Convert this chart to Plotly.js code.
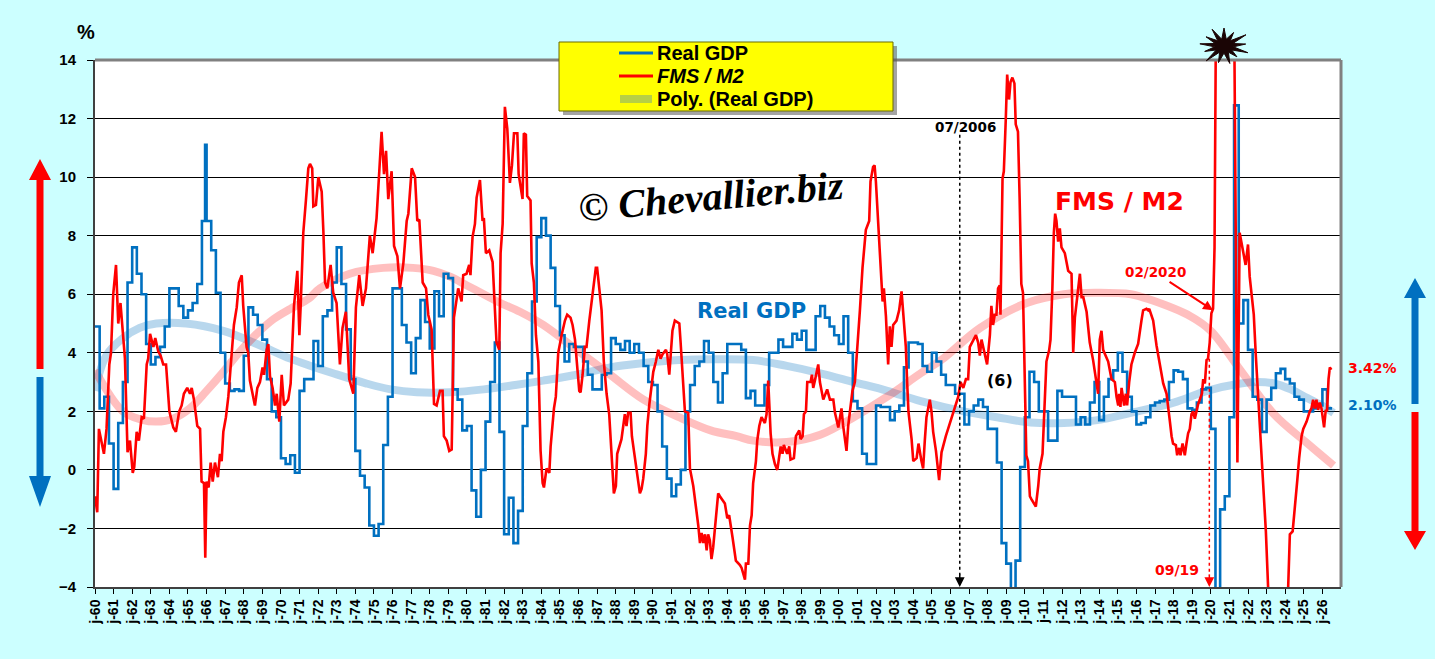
<!DOCTYPE html>
<html><head><meta charset="utf-8">
<script src="https://cdn.plot.ly/plotly-3.0.1.min.js"></script>
<style>html,body{margin:0;padding:0;background:#CCFFFF;}#chart{width:1435px;height:659px;}</style>
</head><body><div id="chart"></div>
<script>
// ---------------- DATA ----------------
const gdpStartYear = 1960;
// Real GDP, y/y %, quarterly from 1960Q1
const gdpQuarterly = [
4.9,2.1,2.5,0.9, -0.65,1.6,3.0,6.4, 7.6,6.7,6.0,4.3, 3.6,3.85,4.2,4.9,
6.2,6.2,5.6,5.2, 5.45,5.7,6.35,8.5, 8.5,7.5,6.05,4.0, 2.95,2.7,2.75,2.7,
3.9,5.55,5.3,4.95, 4.45,3.1,2.0,1.8, 0.4,0.2,0.5,-0.1, 2.7,3.1,3.1,4.4,
3.55,5.25,5.45,6.4, 7.6,6.35,4.8,3.1, 0.65,-0.2,-0.6,-1.9, -2.25,-1.85,0.85,2.5,
6.2,6.2,4.95,4.35, 3.3,4.5,5.8,5.05, 4.15,6.1,5.25,6.7, 6.55,2.75,2.4,1.35,
1.5,-0.7,-1.6,0.0, 1.65,3.0,4.35,1.3, -2.2,-0.95,-2.5,-1.4, 1.5,3.3,5.75,7.95,
8.6,8.0,6.9,5.6, 4.6,3.7,4.3,4.2, 4.2,3.7,3.25,2.75, 2.75,3.25,3.3,4.5,
4.3,4.1,4.4,4.0, 4.3,4.0,3.55,3.0, 2.9,2.0,0.8,-0.3, -0.9,-0.5,0.0,2.0,
2.9,3.55,3.7,4.4, 4.0,3.0,2.3,3.3, 4.3,4.3,4.3,4.1, 2.45,2.7,2.2,2.2,
2.9,4.0,4.0,4.45, 4.2,4.2,4.65,4.45, 4.75,4.1,4.1,5.25, 5.6,5.2,4.9,4.6,
4.3,5.25,4.0,2.35, 2.1,0.55,0.2,0.2, 2.2,2.15,2.15,1.7, 2.0,2.2,3.5,4.35,
4.35,4.3,3.55,3.35, 4.0,3.7,3.25,2.9, 2.9,2.6,2.6,1.55, 2.0,2.2,2.4,2.15,
1.4,1.4,0.25,-2.5, -3.2,-4.3,-3.1,0.1, 1.8,3.35,3.0,2.0, 2.0,1.0,1.0,2.7,
2.5,2.5,2.5,1.55, 1.8,1.55,2.3,3.0, 1.7,2.5,3.1,3.4, 4.0,3.35,2.5,2.0,
1.55,1.6,1.8,2.2, 2.3,2.35,2.4,3.0, 3.4,3.35,3.1,2.1, 2.05,2.3,2.75,2.8,
1.4,-9.0,-1.35,-0.9, 1.8,12.45,5.0,5.8, 4.1,2.5,2.4,1.3, 2.4,2.8,3.3,3.45,
3.1,2.95,2.5,2.4, 2.0,2.0,2.1,2.2, 2.75,2.1
];
const gdpSpikeX = [1965.92];
const gdpSpikeY = [11.1];

// FMS / M2 (%), dates as decimal years
const fmsX = [
1960.00,1960.12,1960.21,1960.36,1960.48,1960.62,1960.77,1960.86,1960.98,1961.13,1961.25,1961.37,1961.61,1961.75,1961.88,
1962.03,1962.11,1962.24,1962.36,1962.51,1962.63,1962.78,1962.86,1962.96,1963.14,1963.24,1963.40,1963.53,1963.67,1963.82,
1964.00,1964.21,1964.35,1964.53,1964.66,1964.78,1964.96,1965.11,1965.20,1965.32,1965.50,1965.65,1965.73,1965.86,1965.93,
1966.00,1966.11,1966.22,1966.33,1966.45,1966.61,1966.72,1966.81,1966.90,1967.04,1967.17,1967.35,1967.47,1967.62,1967.74,
1967.89,1967.97,1968.15,1968.24,1968.33,1968.48,1968.60,1968.73,1968.87,1969.01,1969.09,1969.23,1969.32,1969.41,1969.55,
1969.68,1969.77,1969.91,1970.04,1970.16,1970.39,1970.52,1970.70,1970.88,1970.99,1971.06,1971.20,1971.34,1971.47,1971.56,
1971.68,1971.74,1971.88,1972.01,1972.19,1972.28,1972.37,1972.49,1972.67,1972.81,1972.99,1973.17,1973.31,1973.49,1973.67,
1973.89,1974.03,1974.21,1974.39,1974.57,1974.78,1974.93,1975.14,1975.41,1975.54,1975.65,1975.77,1975.95,1976.08,1976.26,
1976.40,1976.58,1976.76,1976.85,1977.03,1977.21,1977.33,1977.44,1977.62,1977.80,1977.92,1978.10,1978.23,1978.37,1978.55,
1978.69,1978.76,1978.91,1979.05,1979.18,1979.30,1979.53,1979.71,1979.80,1979.98,1980.12,1980.19,1980.30,1980.43,1980.52,
1980.70,1980.84,1980.91,1981.02,1981.20,1981.38,1981.59,1981.74,1981.81,1981.92,1982.04,1982.17,1982.31,1982.42,1982.53,
1982.71,1982.78,1982.99,1983.06,1983.17,1983.24,1983.42,1983.48,1983.60,1983.71,1983.84,1983.96,1984.07,1984.14,1984.28,
1984.43,1984.50,1984.68,1984.78,1984.91,1985.09,1985.27,1985.39,1985.57,1985.68,1985.81,1985.90,1986.04,1986.11,1986.22,
1986.34,1986.43,1986.58,1986.76,1986.93,1987.00,1987.11,1987.24,1987.36,1987.51,1987.65,1987.78,1987.90,1988.01,1988.08,
1988.31,1988.49,1988.58,1988.67,1988.80,1988.87,1988.98,1989.09,1989.21,1989.30,1989.39,1989.48,1989.62,1989.70,1989.81,
1989.93,1990.02,1990.16,1990.29,1990.41,1990.52,1990.70,1990.77,1990.88,1990.95,1991.05,1991.18,1991.42,1991.49,1991.60,
1991.72,1991.90,1991.99,1992.17,1992.35,1992.44,1992.53,1992.62,1992.71,1992.80,1992.89,1992.97,1993.06,1993.15,1993.24,
1993.33,1993.42,1993.51,1993.60,1993.75,1993.87,1994.00,1994.10,1994.28,1994.46,1994.68,1994.77,1994.95,1995.00,1995.13,
1995.22,1995.31,1995.39,1995.54,1995.61,1995.72,1995.84,1996.02,1996.11,1996.20,1996.25,1996.33,1996.43,1996.56,1996.69,
1996.87,1996.97,1997.04,1997.22,1997.33,1997.40,1997.58,1997.69,1997.87,1997.94,1998.05,1998.12,1998.23,1998.30,1998.48,
1998.55,1998.62,1998.71,1998.89,1998.98,1999.16,1999.37,1999.52,1999.70,1999.79,1999.97,2000.14,2000.23,2000.41,2000.50,
2000.59,2000.73,2000.86,2000.98,2001.13,2001.27,2001.45,2001.63,2001.70,2001.84,2001.92,2001.99,2002.13,2002.27,2002.35,
2002.42,2002.53,2002.65,2002.74,2002.83,2002.92,2003.10,2003.24,2003.37,2003.49,2003.60,2003.67,2003.74,2003.91,2004.00,
2004.18,2004.28,2004.44,2004.53,2004.62,2004.71,2004.89,2004.98,2005.07,2005.22,2005.39,2005.52,2005.75,2005.97,2006.18,
2006.42,2006.54,2006.69,2006.83,2006.95,2007.04,2007.26,2007.37,2007.49,2007.58,2007.67,2007.90,2007.97,2008.12,2008.20,
2008.29,2008.38,2008.47,2008.56,2008.65,2008.69,2008.80,2008.87,2008.97,2009.05,2009.15,2009.23,2009.33,2009.44,2009.51,
2009.63,2009.72,2009.81,2009.90,2009.99,2010.08,2010.17,2010.27,2010.35,2010.59,2010.72,2010.80,2010.95,2011.02,2011.16,
2011.31,2011.38,2011.48,2011.56,2011.63,2011.70,2011.79,2011.88,2011.97,2012.15,2012.24,2012.33,2012.51,2012.60,2012.69,
2012.78,2012.96,2013.05,2013.14,2013.32,2013.49,2013.67,2013.85,2013.94,2014.03,2014.12,2014.21,2014.48,2014.66,2014.84,
2014.93,2015.02,2015.07,2015.14,2015.20,2015.34,2015.43,2015.50,2015.61,2015.73,2015.91,2016.09,2016.27,2016.36,2016.54,
2016.63,2016.69,2016.90,2017.08,2017.26,2017.35,2017.44,2017.62,2017.71,2017.80,2017.89,2017.97,2018.12,2018.19,2018.30,
2018.37,2018.48,2018.60,2018.69,2018.78,2018.87,2018.96,2019.05,2019.14,2019.32,2019.52,2019.59,2019.68,2019.77,2019.85,
2019.94,2020.03,2020.12,2020.20,2020.30,2020.50,2020.80,2021.10,2021.25,2021.43,2021.55,2021.87,2022.00,2022.09,2022.24,
2022.31,2022.42,2022.54,2022.63,2022.78,2022.96,2023.08,2023.30,2023.60,2023.90,2024.16,2024.25,2024.40,2024.52,2024.65,
2024.75,2024.88,2024.97,2025.15,2025.32,2025.41,2025.50,2025.59,2025.68,2025.77,2025.86,2025.95,2026.09,2026.18,2026.25,
2026.33,2026.40,2026.48
];
const fmsY = [
-0.9,-1.45,1.4,0.9,0.55,1.4,3.6,4.0,6.0,7.0,5.0,5.7,3.8,0.6,1.0,
-0.1,0.1,1.3,1.0,1.8,1.75,3.6,3.8,4.65,4.2,4.5,4.05,3.9,3.6,3.6,
2.0,1.45,1.3,2.0,2.2,2.6,2.8,2.6,2.8,2.4,1.5,1.4,-0.4,-0.45,-3.0,
-0.4,-0.6,0.25,-0.4,0.25,-0.25,0.55,0.3,1.3,1.8,2.5,3.85,4.95,5.55,6.4,
6.65,5.6,4.2,4.0,3.05,2.55,2.2,2.8,3.0,3.5,3.25,4.1,4.3,3.2,2.8,
2.2,2.6,1.65,3.25,2.2,2.4,2.95,5.6,6.8,4.6,5.6,8.1,9.2,10.3,10.45,
10.3,9.0,9.05,10.0,9.5,8.15,6.4,6.2,7.0,6.05,5.7,3.6,4.85,5.4,3.1,
2.6,5.55,6.65,5.6,6.2,8.0,7.4,8.6,11.55,10.1,10.9,9.25,10.2,7.65,7.3,
6.2,7.05,8.5,8.75,10.3,10.0,8.5,8.55,6.4,6.2,5.3,4.8,2.25,2.2,2.7,
2.7,1.15,1.0,0.65,0.7,5.2,6.2,5.75,6.65,6.7,7.0,6.65,7.95,8.4,9.3,
9.9,8.5,8.6,7.4,7.5,7.1,4.35,4.1,7.4,8.4,12.4,11.65,9.8,10.4,11.5,
11.5,10.1,9.25,11.5,11.45,9.35,9.2,7.05,6.4,4.6,3.7,0.65,-0.45,-0.6,0.05,
-0.1,0.8,2.1,2.5,4.0,4.6,5.1,5.3,5.2,4.95,4.45,3.75,2.7,2.65,3.25,
4.2,4.2,5.1,6.0,6.9,6.9,6.3,5.45,3.7,2.6,1.9,0.35,-0.8,-0.55,0.55,
1.05,1.9,1.5,1.95,1.95,1.15,0.65,0.1,-0.55,-0.8,-0.65,-0.3,0.55,1.5,2.25,
2.8,3.35,3.7,4.1,3.8,3.95,4.1,3.95,3.25,3.9,4.75,5.1,5.0,4.35,3.1,
2.0,1.95,0.05,-0.55,-1.4,-1.9,-2.5,-2.15,-2.5,-2.2,-2.75,-2.2,-2.4,-3.05,-2.65,
-2.0,-1.55,-0.8,-0.9,-1.05,-1.15,-1.65,-1.55,-2.3,-3.1,-3.25,-3.35,-3.75,-3.2,-3.2,
-1.9,-1.55,-0.45,0.3,1.0,1.5,1.8,1.6,1.9,3.05,2.25,1.25,0.55,0.2,0.0,
0.8,0.55,0.85,0.55,0.8,0.35,0.4,1.15,1.35,1.05,1.15,1.9,2.0,3.0,3.0,
3.25,2.8,3.05,3.6,3.0,2.4,2.75,2.4,2.4,1.95,1.45,2.1,1.5,0.65,1.5,
2.0,2.7,3.0,3.95,5.45,6.9,8.2,8.5,9.85,10.35,10.4,9.85,8.1,6.3,5.75,
6.2,5.25,3.6,4.9,4.2,4.95,5.1,5.45,6.1,5.2,4.2,3.0,2.0,1.05,0.3,
0.4,0.9,0.3,0.05,1.0,1.8,2.4,2.0,1.3,0.65,-0.35,0.6,1.15,1.6,2.0,
2.5,3.0,2.8,3.1,3.1,4.2,4.45,4.6,4.35,3.9,4.45,3.85,3.6,4.6,5.6,
4.95,5.3,5.3,6.2,6.3,5.3,9.95,10.2,11.9,13.5,12.65,13.25,13.4,13.2,11.8,
11.55,9.25,6.35,6.05,2.5,0.5,0.3,-0.9,-1.0,-1.25,-0.55,0.05,0.55,1.6,3.7,
4.1,4.45,6.2,8.1,8.75,8.5,7.8,8.25,7.6,7.4,7.1,6.8,6.7,4.0,5.2,
5.7,6.7,5.9,5.9,5.4,4.35,3.75,3.0,2.6,4.45,4.75,4.1,3.7,3.1,3.0,
2.5,2.2,2.6,2.15,2.8,2.2,2.6,2.2,3.0,3.6,4.0,4.3,5.1,5.45,5.5,
5.45,5.5,5.1,4.25,3.6,3.4,2.95,2.6,2.0,1.65,1.15,0.9,0.85,0.5,0.75,
0.5,0.9,0.5,0.9,1.25,1.4,1.9,2.0,1.75,2.25,2.6,3.1,2.95,3.75,3.8,
4.35,5.35,5.5,7.6,18.0,24.0,26.0,22.0,16.0,0.25,8.1,7.0,7.7,6.6,5.6,
5.3,3.9,2.6,1.4,0.15,-2.1,-4.0,-6.5,-7.5,-6.5,-4.0,-2.2,-2.1,-1.1,-0.35,
0.4,1.15,1.4,1.65,2.0,2.1,2.4,2.1,2.4,2.05,2.3,2.1,1.45,2.05,2.0,
3.1,3.5,3.42
];

// Polynomial trend lines
const gdpPolyX = [1960.0,1960.6,1961.5,1962.4,1963.3,1964.9,1966.9,1968.7,1970.5,1971.6,1972.8,1974.6,1975.9,1977.3,1979.1,1980.9,1982.6,1984.1,1985.9,1987.7,1989.5,1991.4,1993.3,1995.4,1997.2,1999.0,2000.8,2002.6,2004.4,2006.7,2008.5,2010.3,2012.1,2013.9,2015.7,2018.0,2019.8,2021.6,2022.5,2023.4,2024.3,2025.2,2026.1,2026.6];
const gdpPolyY = [2.7,3.9,4.5,4.85,5.0,5.0,4.75,4.3,3.8,3.55,3.3,2.95,2.75,2.65,2.65,2.75,2.9,3.05,3.25,3.5,3.65,3.75,3.78,3.75,3.55,3.3,3.0,2.7,2.35,2.0,1.8,1.62,1.6,1.7,1.95,2.3,2.7,2.95,3.0,2.95,2.75,2.45,2.15,1.95];
const fmsPolyX = [1960.0,1961.5,1962.5,1963.3,1964.2,1965.1,1966.0,1966.9,1967.8,1968.7,1969.6,1970.5,1971.5,1972.1,1973.7,1975.5,1977.1,1978.2,1979.1,1980.0,1980.9,1981.8,1982.85,1984.1,1985.9,1987.7,1989.5,1991.4,1993.1,1994.5,1995.4,1997.2,1999.0,2000.8,2002.6,2004.4,2005.5,2007.6,2010.1,2012.1,2013.9,2015.7,2016.8,2018.9,2020.0,2021.6,2023.4,2025.2,2026.6];
const fmsPolyY = [3.4,2.0,1.72,1.65,1.75,2.1,2.7,3.35,4.05,4.65,5.15,5.5,5.85,6.2,6.7,6.9,6.9,6.8,6.6,6.3,6.0,5.7,5.4,4.95,4.1,3.25,2.4,1.8,1.35,1.15,1.0,0.95,1.2,1.8,2.5,3.3,3.75,4.85,5.7,6.0,6.05,6.0,5.8,5.25,4.75,3.4,1.9,0.9,0.15];

const tickYears = [];
for (let y = 1960; y <= 2026; y++) tickYears.push(y);
const tickLabels = tickYears.map(y => 'j-' + String(y % 100).padStart(2, '0'));

// ---------------- BUILD ----------------
const gdpPts = gdpQuarterly.map((v, i) => [gdpStartYear + i / 4, v]);
gdpSpikeX.forEach((x, i) => gdpPts.push([x, gdpSpikeY[i]]));
gdpPts.sort((a, b) => a[0] - b[0]);
const lastGdp = gdpPts[gdpPts.length - 1];
gdpPts.push([lastGdp[0] + 0.27, lastGdp[1]]);

const BLUE = '#0070C0', RED = '#FF0000';
const traces = [
  {x: gdpPolyX, y: gdpPolyY, mode: 'lines', line: {color: 'rgba(0,112,192,0.28)', width: 8, shape: 'spline'}, hoverinfo: 'skip'},
  {x: fmsPolyX, y: fmsPolyY, mode: 'lines', line: {color: 'rgba(255,0,0,0.25)', width: 8, shape: 'spline'}, hoverinfo: 'skip'},
  {x: gdpPts.map(p => p[0]), y: gdpPts.map(p => p[1]), mode: 'lines', name: 'Real GDP', line: {color: BLUE, width: 2.6, shape: 'hv'}},
  {x: fmsX, y: fmsY, mode: 'lines', name: 'FMS / M2', line: {color: RED, width: 2.6}}
];

// pixel -> paper helpers (plot area 95..1341 x 60..587)
const L = 95, R = 1341, T = 60, B = 587;
const px = x => (x - L) / (R - L);
const py = y => (B - y) / (B - T);
const pth = pts => 'M ' + pts.map(p => px(p[0]).toFixed(5) + ' ' + py(p[1]).toFixed(5)).join(' L ') + ' Z';

function arrow(cx, tip, base, end, hh, sh) {
  return pth([[cx, tip], [cx + hh, base], [cx + sh, base], [cx + sh, end], [cx - sh, end], [cx - sh, base], [cx - hh, base]]);
}
function star(cx, cy, n, ro, ri) {
  const pts = [];
  const jit = [1, 0.85, 1.1, 0.9, 1.05, 0.8, 1.0, 0.95, 1.1, 0.85, 1.0, 0.9, 1.05, 0.88];
  for (let i = 0; i < 2 * n; i++) {
    const a = Math.PI * i / n - Math.PI / 2;
    const r = i % 2 === 0 ? ro * jit[(i / 2) % jit.length] : ri;
    pts.push([cx + r * Math.cos(a) * 1.35, cy + r * Math.sin(a)]);
  }
  return pth(pts);
}

const shapes = [
  // plot frame top & right (gray)
  {type: 'line', xref: 'paper', yref: 'paper', x0: 0, x1: 1, y0: 1, y1: 1, line: {color: '#808080', width: 3}},
  {type: 'line', xref: 'paper', yref: 'paper', x0: 1, x1: 1, y0: 0, y1: 1, line: {color: '#808080', width: 3}},
  // legend box with shadow
  {type: 'rect', xref: 'paper', yref: 'paper', x0: px(563), x1: px(897), y0: py(46), y1: py(115), fillcolor: 'rgba(90,90,90,0.55)', line: {width: 0}},
  {type: 'rect', xref: 'paper', yref: 'paper', x0: px(559), x1: px(893), y0: py(42), y1: py(111), fillcolor: '#FFFF00', line: {color: '#6b6b00', width: 1}},
  {type: 'line', xref: 'paper', yref: 'paper', x0: px(619), x1: px(653), y0: py(53), y1: py(53), line: {color: BLUE, width: 3}},
  {type: 'line', xref: 'paper', yref: 'paper', x0: px(619), x1: px(653), y0: py(76), y1: py(76), line: {color: RED, width: 3}},
  {type: 'line', xref: 'paper', yref: 'paper', x0: px(620), x1: px(652), y0: py(99), y1: py(99), line: {color: '#B7CF45', width: 8}},
  // side arrows
  {type: 'path', xref: 'paper', yref: 'paper', path: arrow(40, 159, 180, 369, 11, 3.5), fillcolor: RED, line: {width: 0}},
  {type: 'path', xref: 'paper', yref: 'paper', path: arrow(40, 507, 476, 377, 11, 3.5), fillcolor: BLUE, line: {width: 0}},
  {type: 'path', xref: 'paper', yref: 'paper', path: arrow(1415, 278, 298, 404, 11, 3.5), fillcolor: BLUE, line: {width: 0}},
  {type: 'path', xref: 'paper', yref: 'paper', path: arrow(1415, 550, 531, 412, 11, 3.5), fillcolor: RED, line: {width: 0}},
  // starburst at the top
  {type: 'path', xref: 'paper', yref: 'paper', path: star(1224, 46, 13, 18, 7), fillcolor: '#1a0505', line: {color: '#1a0505', width: 1}},
  // dotted markers
  {type: 'line', xref: 'x', yref: 'y', x0: 2006.5, x1: 2006.5, y0: 11.45, y1: -3.6, line: {color: '#000', width: 1.5, dash: 'dot'}},
  {type: 'line', xref: 'x', yref: 'y', x0: 2019.92, x1: 2019.92, y0: 3.8, y1: -3.6, line: {color: RED, width: 1.5, dash: 'dot'}}
];

const lastF = fmsY[fmsY.length - 1];
const lastG = gdpQuarterly[gdpQuarterly.length - 1];
const bold = (size, color, fam) => ({family: fam || 'DejaVu Sans, Verdana, sans-serif', size: size, color: color || '#000', weight: 'bold'});
const annotations = [
  {xref: 'paper', yref: 'paper', x: px(86), y: py(32), text: '%', showarrow: false, font: bold(20, '#000', 'Liberation Sans, Arial'), xanchor: 'center', yanchor: 'middle'},
  // legend texts
  {xref: 'paper', yref: 'paper', x: px(655), y: py(53), text: 'Real GDP', showarrow: false, xanchor: 'left', yanchor: 'middle', font: bold(20, '#000', 'Liberation Sans, Arial')},
  {xref: 'paper', yref: 'paper', x: px(655), y: py(76), text: '<i>FMS / M2</i>', showarrow: false, xanchor: 'left', yanchor: 'middle', font: bold(20, '#000', 'Liberation Sans, Arial')},
  {xref: 'paper', yref: 'paper', x: px(655), y: py(99), text: 'Poly. (Real GDP)', showarrow: false, xanchor: 'left', yanchor: 'middle', font: bold(20, '#000', 'Liberation Sans, Arial')},
  // watermark
  {xref: 'paper', yref: 'paper', x: px(711), y: py(196), text: '© Chevallier.biz', showarrow: false, textangle: -5, xanchor: 'center', yanchor: 'middle', font: {family: 'Liberation Serif, Times New Roman, serif', size: 40, style: 'italic', weight: 'bold', color: '#000'}},
  // series labels
  {x: 1995.32, y: 5.43, text: 'Real GDP', showarrow: false, font: bold(21, BLUE)},
  {x: 2015.11, y: 9.18, text: 'FMS / M2', showarrow: false, font: bold(25, RED)},
  {x: 2006.83, y: 11.72, text: '07/2006', showarrow: false, font: bold(13.5, '#000')},
  {x: 2006.5, y: -4, text: '', showarrow: true, ax: 0, ay: -14, arrowhead: 2, arrowsize: 1.3, arrowwidth: 1.5, arrowcolor: '#000'},
  {x: 2008.66, y: 3.07, text: '(6)', showarrow: false, font: bold(16, '#000')},
  {x: 2020.12, y: 5.45, text: '02/2020', showarrow: true, ax: -58, ay: -38, arrowhead: 2, arrowsize: 1, arrowwidth: 2, arrowcolor: RED, font: bold(13.5, RED)},
  {x: 2018.2, y: -3.42, text: '09/19', showarrow: false, font: bold(14, RED)},
  {x: 2019.92, y: -4, text: '', showarrow: true, ax: 0, ay: -14, arrowhead: 2, arrowsize: 1.3, arrowwidth: 1.5, arrowcolor: RED},
  {xref: 'paper', x: 1, xshift: 5, y: lastF + 0.05, text: lastF.toFixed(2) + '%', showarrow: false, xanchor: 'left', font: bold(14, RED)},
  {xref: 'paper', x: 1, xshift: 5, y: lastG + 0.1, text: lastG.toFixed(2) + '%', showarrow: false, xanchor: 'left', font: bold(14, BLUE)}
];

const layout = {
  width: 1435, height: 659,
  paper_bgcolor: '#CCFFFF', plot_bgcolor: '#FFFFFF',
  margin: {l: L, r: 1435 - R, t: T, b: 659 - B, pad: 0},
  showlegend: false,
  xaxis: {
    type: 'linear', range: [1960, 2027], tickmode: 'array', tickvals: tickYears, ticktext: tickLabels,
    tickangle: -90, ticks: 'outside', ticklen: 5, tickcolor: '#000', tickwidth: 1,
    showgrid: false, zeroline: false, showline: true, linecolor: '#404040', linewidth: 2,
    tickfont: {family: 'Liberation Sans, Arial', size: 14, color: '#000', weight: 'bold'}, fixedrange: true
  },
  yaxis: {
    range: [-4, 14], tickmode: 'linear', tick0: -4, dtick: 2,
    ticks: 'outside', ticklen: 6, tickcolor: '#000', ticklabelstandoff: 8,
    showgrid: true, gridcolor: '#000', gridwidth: 1, zeroline: false,
    showline: true, linecolor: '#404040', linewidth: 2,
    tickfont: {family: 'Liberation Sans, Arial', size: 15, color: '#000', weight: 'bold'}, fixedrange: true
  },
  shapes: shapes,
  annotations: annotations
};

Plotly.newPlot('chart', traces, layout, {displayModeBar: false, staticPlot: true});
</script>
</body></html>
